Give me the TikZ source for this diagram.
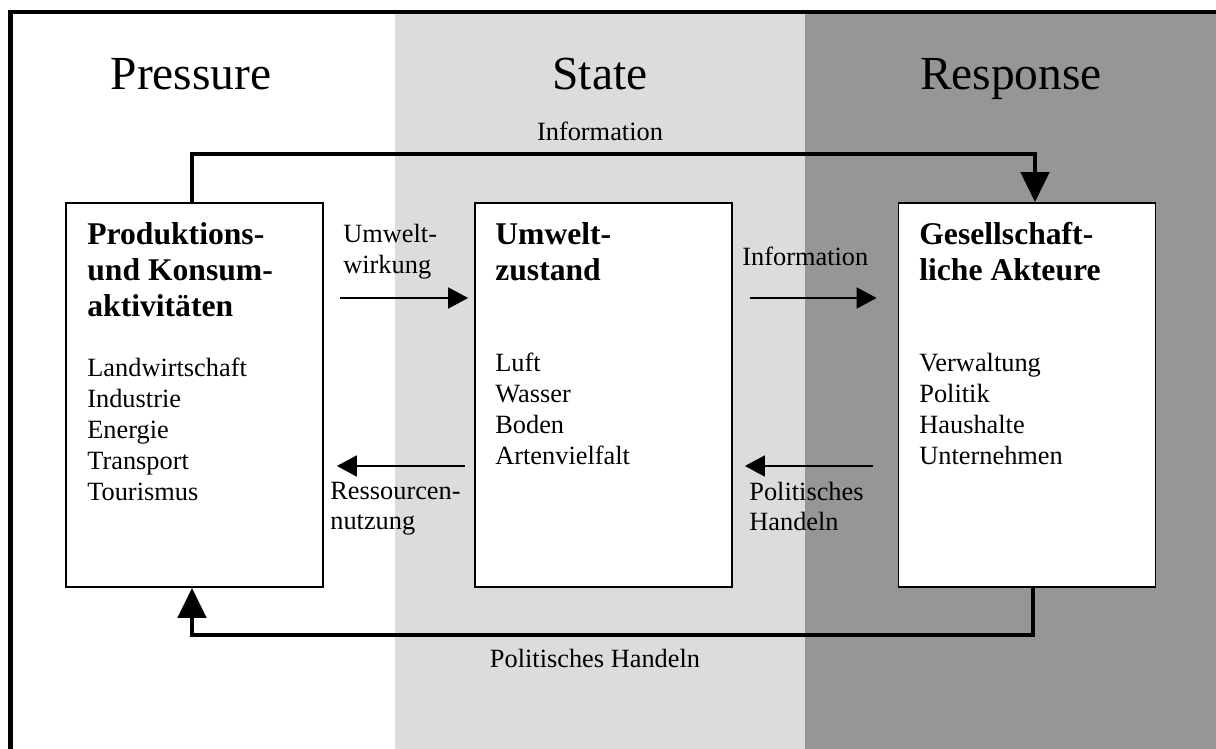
\documentclass[tikz,border=0pt]{standalone}
\usepackage{fontspec}
\setmainfont{Liberation Serif}
\usetikzlibrary{arrows.meta}
\tikzset{>=latex}
\definecolor{stategray}{gray}{0.863}
\definecolor{respgray}{gray}{0.588}

\begin{document}
\begin{tikzpicture}[
    box/.style={draw,line width=1pt,fill=white,minimum width=5.14cm,minimum height=7.68cm,inner sep=0pt},
    title/.style={anchor=base,inner sep=0pt,font=\fontsize{27}{32}\selectfont},
    head/.style={anchor=base west,inner sep=0pt,font=\fontsize{18}{21}\selectfont\bfseries},
    body/.style={anchor=base west,inner sep=0pt,font=\fontsize{15}{18}\selectfont},
    lbl/.style={inner sep=0pt,font=\fontsize{15}{18}\selectfont},
    flow/.style={-{Triangle[length=0.4cm,width=0.42cm]},line width=1pt},
    loop/.style={-{Triangle[length=0.6cm,width=0.56cm]},line width=2.6pt}]
\useasboundingbox (0,0) rectangle (24.32,14.98);
% columns and frame
\fill[stategray] (7.9,0) rectangle (16.1,14.74);
\fill[respgray] (16.1,0) rectangle (24.32,14.74);
\draw[line width=2.4pt] (0.21,0) |- (24.32,14.74);

\node[title] (Pressure) at (3.82,13.18) {Pressure};
\node[title] (State) at (12.0,13.18) {State};
\node[title] (Response) at (20.22,13.18) {Response};

\node[box] (P) at (3.89,7.08) {};
\node[box] (S) at (12.07,7.08) {};
\node[box] (R) at (20.54,7.08) {};

% Pressure box
\node[head] (P1) at (1.74,10.08) {Produktions-};
\node[head] (P2) at (1.74,9.36) {und Konsum-};
\node[head] (P3) at (1.74,8.64) {aktivitäten};
\node[body] (Pa) at (1.74,7.44) {Landwirtschaft};
\node[body] (Pb) at (1.74,6.82) {Industrie};
\node[body] (Pc) at (1.74,6.20) {Energie};
\node[body] (Pd) at (1.74,5.58) {Transport};
\node[body] (Pe) at (1.74,4.96) {Tourismus};

% State box
\node[head] (S1) at (9.9,10.08) {Umwelt-};
\node[head] (S2) at (9.9,9.36) {zustand};
\node[body] (Sa) at (9.9,7.54) {Luft};
\node[body] (Sb) at (9.9,6.92) {Wasser};
\node[body] (Sc) at (9.9,6.30) {Boden};
\node[body] (Sd) at (9.9,5.68) {Artenvielfalt};

% Response box
\node[head] (R1) at (18.38,10.08) {Gesellschaft-};
\node[head] (R2) at (18.38,9.36) {liche Akteure};
\node[body] (Ra) at (18.38,7.54) {Verwaltung};
\node[body] (Rb) at (18.38,6.92) {Politik};
\node[body] (Rc) at (18.38,6.30) {Haushalte};
\node[body] (Rd) at (18.38,5.68) {Unternehmen};

% arrow labels
\node[lbl,anchor=base west] (UW1) at (6.86,10.12) {Umwelt-};
\node[lbl,anchor=base west] (UW2) at (6.86,9.50) {wirkung};
\node[lbl,anchor=base west] (IN) at (14.84,9.66) {Information};
\node[lbl,anchor=base west] (RN1) at (6.6,4.98) {Ressourcen-};
\node[lbl,anchor=base west] (RN2) at (6.6,4.38) {nutzung};
\node[lbl,anchor=base west] (PH1) at (14.98,4.96) {Politisches};
\node[lbl,anchor=base west] (PH2) at (14.98,4.36) {Handeln};
\node[lbl,anchor=base] (INtop) at (12.0,12.16) {Information};
\node[lbl,anchor=base] (PHbot) at (11.9,1.62) {Politisches Handeln};

\draw[flow,shorten <=0.32cm,shorten >=0.12cm] ([yshift=1.94cm]P.east) -- ([yshift=1.94cm]S.west);
\draw[flow,shorten <=0.34cm,shorten >=0.42cm] ([yshift=1.94cm]S.east) -- ([yshift=1.94cm]R.west);
\draw[flow,shorten <=0.18cm,shorten >=0.26cm] ([yshift=-1.42cm]S.west) -- ([yshift=-1.42cm]P.east);
\draw[flow,shorten <=0.5cm,shorten >=0.24cm] ([yshift=-1.42cm]R.west) -- ([yshift=-1.42cm]S.east);

\draw[loop] ([xshift=-0.05cm]P.north) -- ++(0,0.96) -| ([xshift=0.16cm]R.north);
\draw[loop] ([xshift=0.12cm]R.south) -- ++(0,-0.94) -| ([xshift=-0.05cm]P.south);
\end{tikzpicture}
\end{document}
